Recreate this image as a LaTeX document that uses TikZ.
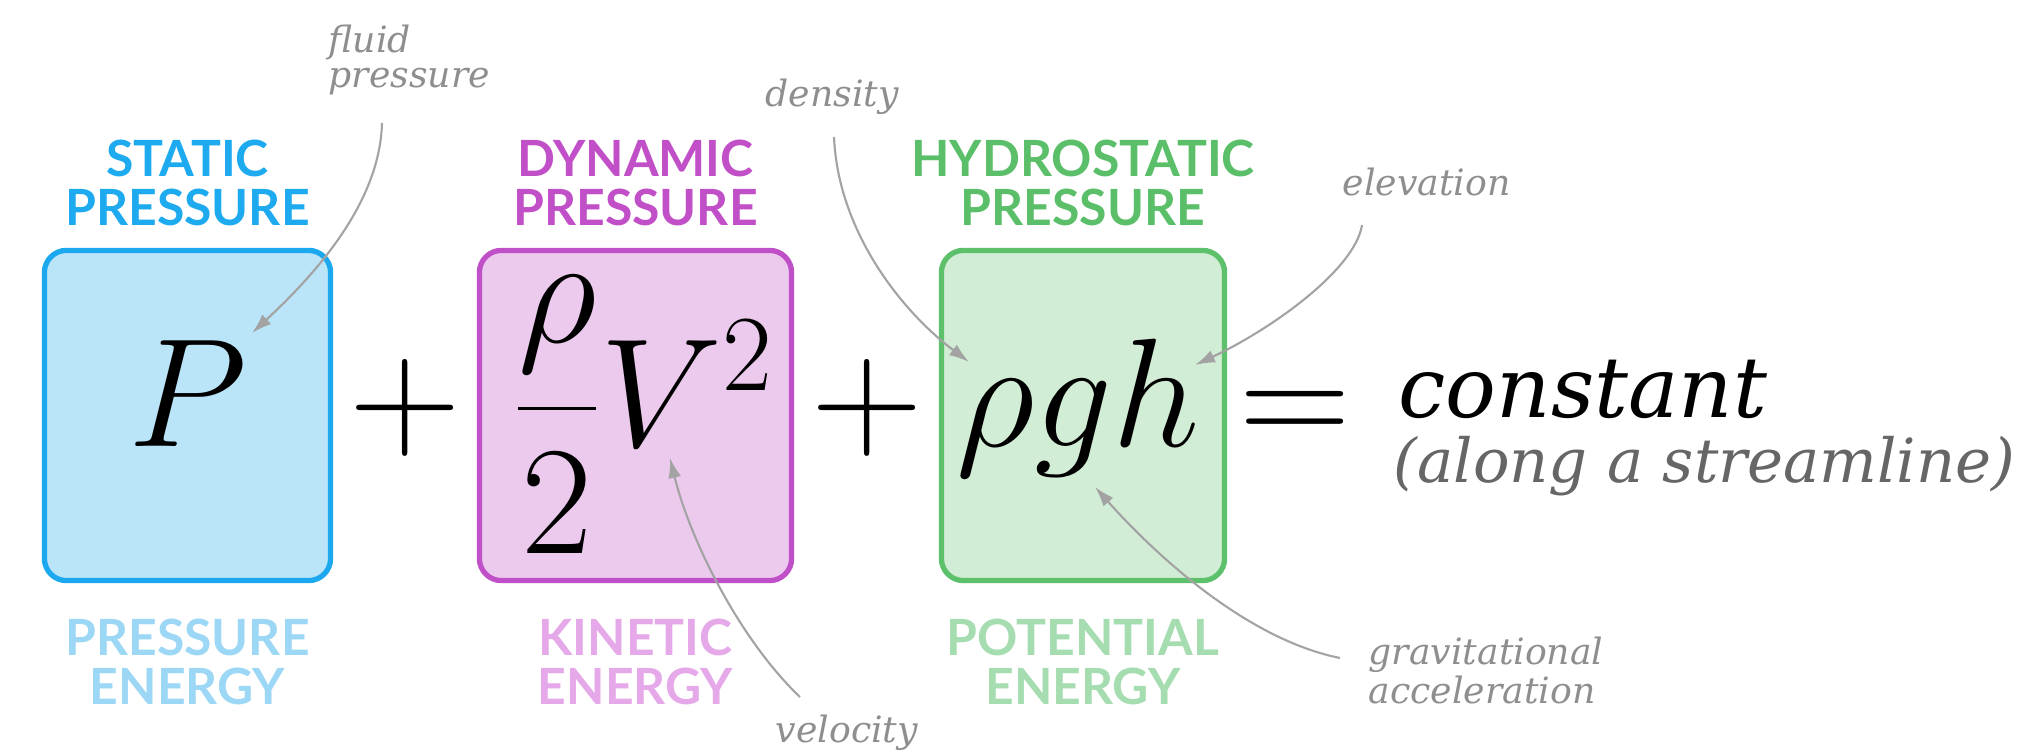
\RequirePackage{fix-cm}
\documentclass[tikz,border=0pt]{standalone}
\usepackage{amsmath}
\usepackage{fontspec}
\newfontfamily\capsfont{Lato}
\newfontfamily\notefont{DejaVu Serif}
\usetikzlibrary{arrows.meta, positioning}

\definecolor{statline}{HTML}{1CA8EE}
\definecolor{statfill}{HTML}{BAE4F8}
\definecolor{stattxt}{HTML}{1EAAEF}
\definecolor{statsoft}{HTML}{9CD7F5}
\definecolor{dynline}{HTML}{C050C8}
\definecolor{dynfill}{HTML}{ECCAEE}
\definecolor{dyntxt}{HTML}{C14FC8}
\definecolor{dynsoft}{HTML}{E5A8E8}
\definecolor{hydline}{HTML}{5DC06B}
\definecolor{hydfill}{HTML}{D2EDD5}
\definecolor{hydtxt}{HTML}{5BBF69}
\definecolor{hydsoft}{HTML}{A6DDB0}
\definecolor{notegray}{HTML}{8E8E8E}
\definecolor{arrowgray}{HTML}{A3A3A3}

\begin{document}
\begin{tikzpicture}[
    x=0.01cm, y=-0.01cm,
    term/.style={rectangle, rounded corners=0.22cm, line width=1.5pt,
                 minimum height=3.30cm, inner sep=0pt},
    head/.style={font=\capsfont\bfseries\fontsize{14.2}{13.9}\selectfont,
                 align=center, inner sep=0pt},
    mathterm/.style={font=\fontsize{44}{50}\selectfont, anchor=base, inner sep=0pt},
    note/.style={font=\notefont\itshape\fontsize{10.3}{10}\selectfont,
                 text=notegray, align=left, inner sep=0pt},
    callout/.style={-{Latex[length=0.2cm, width=0.13cm]}, line width=0.6pt, draw=arrowgray}
  ]
  \useasboundingbox (0,0) rectangle (2030,755);

  % the three terms
  \node[term, draw=statline, fill=statfill, minimum width=2.86cm] (statbox) at (187.5,415.5) {};
  \node[term, draw=dynline, fill=dynfill, minimum width=3.12cm]  (dynbox)  at (635.5,415.5) {};
  \node[term, draw=hydline, fill=hydfill, minimum width=2.83cm]  (hydbox)  at (1083,415.5) {};

  \node[head, text=stattxt, above=0.21cm of statbox] (stathead) {STATIC\\PRESSURE};
  \node[head, text=dyntxt,  above=0.21cm of dynbox]  (dynhead)  {DYNAMIC\\PRESSURE};
  \node[head, text=hydtxt,  above=0.21cm of hydbox]  (hydhead)  {HYDROSTATIC\\PRESSURE};

  \node[head, text=statsoft, below=0.35cm of statbox] (statfoot) {PRESSURE\\ENERGY};
  \node[head, text=dynsoft,  below=0.35cm of dynbox]  (dynfoot)  {KINETIC\\ENERGY};
  \node[head, text=hydsoft,  below=0.35cm of hydbox]  (hydfoot)  {POTENTIAL\\ENERGY};

  % the equation
  \node[mathterm] (P)     at (187.5,447) {$P$};
  \node[mathterm] (plus1) at (405,447)   {$+$};
  \node[mathterm] (dyn)   at (644,447)   {$\dfrac{\rho}{2}V^2$};
  \node[mathterm] (plus2) at (867,447)   {$+$};
  \node[mathterm] (hyd)   at (1078,447)  {$\rho g h$};
  \node[mathterm] (eq)    at (1295,447)  {$=$};

  \node[font=\notefont\itshape\fontsize{24}{24}\selectfont, anchor=base west, inner sep=0pt]
        (const) at (1398,418) {constant};
  \node[font=\notefont\itshape\fontsize{17.3}{17.3}\selectfont, text=black!60,
        anchor=base west, inner sep=0pt] (along) at (1393,483) {(along a streamline)};

  % annotations
  \node[note, anchor=south west] (fluid)     at (328,96)   {fluid\\pressure};
  \node[note, anchor=base west]  (density)   at (765,107)  {density};
  \node[note, anchor=base west]  (elevation) at (1342,196) {elevation};
  \node[note, anchor=base west]  (velocity)  at (775,742)  {velocity};
  \node[note, anchor=south west] (gravity)   at (1368,705) {gravitational\\acceleration};

  \coordinate (fluidtail) at (382,123);
  \coordinate (densitytail) at (834,137);
  \coordinate (elevtail) at (1362,225);
  \coordinate (veltail) at (800,697);
  \coordinate (gravtail) at (1340,658);

  \coordinate (Ptip) at (252,333);
  \coordinate (rhotip) at (969,362);
  \coordinate (htip) at (1195,365);
  \coordinate (Vtip) at (670,458);
  \coordinate (gtip) at (1095,487);

  \draw[callout] (fluidtail) .. controls (380,200) and (320,270) .. (Ptip);
  \draw[callout] (densitytail) .. controls (838,230) and (900,310) .. (rhotip);
  \draw[callout] (elevtail) .. controls (1355,270) and (1270,330) .. (htip);
  \draw[callout] (veltail) .. controls (740,640) and (690,540) .. (Vtip);
  \draw[callout] (gravtail) .. controls (1250,640) and (1160,560) .. (gtip);
\end{tikzpicture}
\end{document}
